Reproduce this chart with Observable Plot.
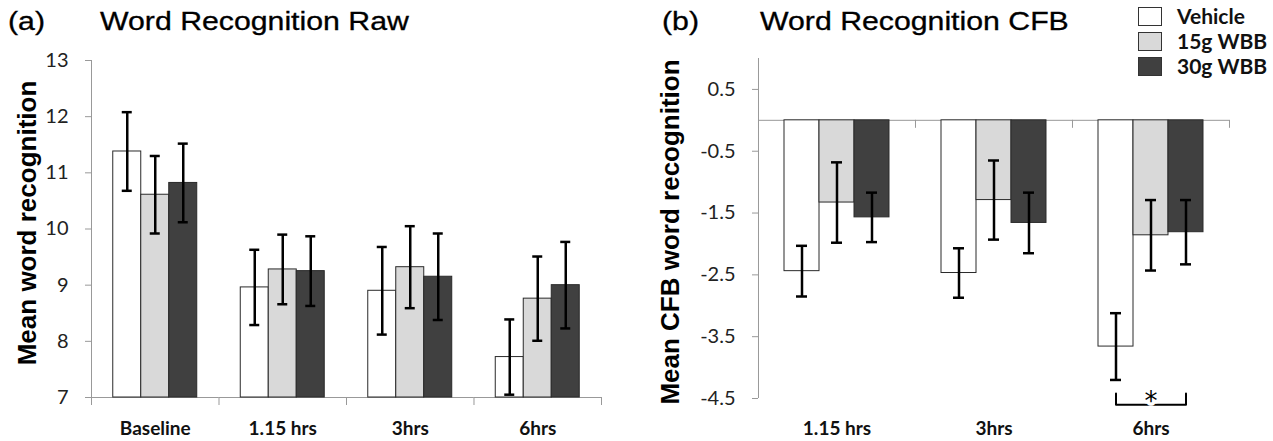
<!DOCTYPE html>
<html><head><meta charset="utf-8">
<script src="https://cdn.jsdelivr.net/npm/d3@7"></script>
<script src="https://cdn.jsdelivr.net/npm/@observablehq/plot@0.6"></script>
<style>
body{margin:0;background:#fff;}
#wrap{position:relative;width:1273px;height:441px;overflow:hidden;background:#fff;}
#wrap svg{position:absolute;top:0;}
.t{position:absolute;font-family:"Liberation Sans",Arial,sans-serif;font-size:25px;line-height:25px;color:#000;white-space:nowrap;transform-origin:0 0;transform:scaleX(1.21);-webkit-text-stroke:0.3px #000;}
.yl{position:absolute;font-family:"Liberation Sans",Arial,sans-serif;font-weight:bold;font-size:26px;line-height:26px;color:#000;white-space:nowrap;transform:translate(-50%,-50%) rotate(-90deg);}
.sw{position:absolute;width:22px;height:17px;border:1px solid #333;}
.lt{position:absolute;font-family:Lato,sans-serif;font-weight:bold;font-size:21px;line-height:21px;color:#111;white-space:nowrap;}
</style></head><body><div id="wrap"></div>
<script>
// ---- data ----
const series = ["Vehicle", "15g WBB", "30g WBB"];
const seriesColors = ["#ffffff", "#d9d9d9", "#404040"];

const rawCategories = ["Baseline", "1.15 hrs", "3hrs", "6hrs"];
const rawVehicle = [11.38, 8.96, 8.90, 7.72];
const raw15g = [10.61, 9.28, 9.32, 8.76];
const raw30g = [10.82, 9.25, 9.15, 9.00];
const rawVehicleErr = [0.70, 0.67, 0.78, 0.67];
const raw15gErr = [0.69, 0.62, 0.73, 0.75];
const raw30gErr = [0.70, 0.62, 0.77, 0.77];
const rawTicks = [7, 8, 9, 10, 11, 12, 13];

const cfbCategories = ["1.15 hrs", "3hrs", "6hrs"];
const cfbVehicle = [-2.44, -2.47, -3.66];
const cfb15g = [-1.33, -1.29, -1.86];
const cfb30g = [-1.57, -1.66, -1.81];
const cfbVehicleErr = [0.41, 0.40, 0.54];
const cfb15gErr = [0.65, 0.64, 0.57];
const cfb30gErr = [0.40, 0.49, 0.52];
const cfbTicks = [0.5, -0.5, -1.5, -2.5, -3.5, -4.5];

const significance = [{category: "6hrs", from: "Vehicle", to: "30g WBB", label: "*"}];

// ---- drawing ----
const axisGray = "#999";
function panel(o) {
  const means = o.means, errs = o.errs;
  const rows = [];
  o.cats.forEach((c, i) => series.forEach((s, j) =>
    rows.push({category: c, series: s, value: means[j][i], err: errs[j][i]})));
  const facetW = (o.width - o.ml - o.mr) / o.cats.length;
  const step = facetW / (series.length + 2 * o.pOuter);
  const edge = step * (o.pOuter + 0.5);
  const capInset = (step - o.capW) / 2;
  const marks = [
    Plot.ruleY([o.base], {stroke: axisGray, strokeWidth: 1}),
    Plot.barY(rows, {fx: "category", x: "series", y1: o.base, y2: "value", fill: "series", stroke: "#2a2a2a", strokeWidth: 1}),
    Plot.ruleX(rows, {fx: "category", x: "series", y1: d => d.value - d.err, y2: d => d.value + d.err, stroke: "#000", strokeWidth: 2.5}),
    Plot.tickY(rows, {fx: "category", x: "series", y: d => d.value - d.err, insetLeft: capInset, insetRight: capInset, stroke: "#000", strokeWidth: 2.5}),
    Plot.tickY(rows, {fx: "category", x: "series", y: d => d.value + d.err, insetLeft: capInset, insetRight: capInset, stroke: "#000", strokeWidth: 2.5}),
    // y axis line
    Plot.ruleX([o.cats[0]], {fx: d => d, x: () => series[0], dx: -edge, y1: o.yDomain[0], y2: o.yDomain[1], stroke: axisGray}),
    // category separators
    Plot.ruleX(o.cats, {fx: d => d, x: () => series[0], dx: -edge, y1: o.base, y2: o.base, insetBottom: -8, stroke: axisGray}),
    Plot.ruleX([o.cats[o.cats.length - 1]], {fx: d => d, x: () => series[series.length - 1], dx: edge, y1: o.base, y2: o.base, insetBottom: -8, stroke: axisGray}),
    Plot.axisY({ticks: o.ticks, tickSize: 6, tickPadding: 17, tickFormat: d => String(d), stroke: axisGray, fill: "#222", fontSize: 20, label: null}),
    Plot.axisFx({anchor: "bottom", tickSize: 0, tickPadding: o.labelPad, fontSize: 19, fontWeight: "bold", fill: "#111", label: null})
  ];
  if (o.sig) {
    const top = o.sigTop, low = o.sigLow;
    o.sig.forEach(s => {
      const pts = [
        {category: s.category, series: s.from, y: top},
        {category: s.category, series: s.from, y: low},
        {category: s.category, series: s.to, y: low},
        {category: s.category, series: s.to, y: top}
      ];
      marks.push(Plot.line(pts, {fx: "category", x: "series", y: "y", stroke: "#000", strokeWidth: 2}));
      const mid = series[(series.indexOf(s.from) + series.indexOf(s.to)) / 2];
      marks.push(Plot.text([s], {fx: "category", x: () => mid, y: low, text: "label", fontSize: 26, fontFamily: "DejaVu Sans", fill: "#000", stroke: "#fff", strokeWidth: 7, paintOrder: "stroke", dy: -3}));
    });
  }
  const svg = Plot.plot({
    width: o.width, height: 441,
    marginLeft: o.ml, marginRight: o.mr, marginTop: o.mt, marginBottom: o.mb,
    style: {fontFamily: "Lato, sans-serif", fontSize: "20px", background: "transparent", overflow: "visible"},
    fx: {domain: o.cats, padding: 0, round: false},
    x: {domain: series, paddingInner: 0, paddingOuter: o.pOuter, round: false, axis: null},
    y: {domain: o.yDomain},
    color: {domain: series, range: seriesColors},
    marks
  });
  svg.style.left = o.left + "px";
  return svg;
}

const wrap = document.getElementById("wrap");
wrap.appendChild(panel({
  cats: rawCategories, means: [rawVehicle, raw15g, raw30g], errs: [rawVehicleErr, raw15gErr, raw30gErr],
  yDomain: [7, 13], ticks: rawTicks, base: 7, labelPad: 24,
  left: 0, width: 625, ml: 91, mr: 24, mt: 60, mb: 44, pOuter: 0.777, capW: 10
}));
wrap.appendChild(panel({
  cats: cfbCategories, means: [cfbVehicle, cfb15g, cfb30g], errs: [cfbVehicleErr, cfb15gErr, cfb30gErr],
  yDomain: [-4.5, 1.0], ticks: cfbTicks, base: 0, labelPad: 23,
  left: 625, width: 648, ml: 133, mr: 44, mt: 58, mb: 43, pOuter: 0.743, capW: 11,
  sig: significance, sigTop: -4.42, sigLow: -4.6
}));

function addDiv(cls, text, css) {
  const d = document.createElement("div");
  d.className = cls; d.textContent = text;
  Object.assign(d.style, css);
  wrap.appendChild(d);
  return d;
}
addDiv("t", "(a)", {left: "8px", top: "9px"});
addDiv("t", "Word Recognition Raw", {left: "100px", top: "9px"});
addDiv("t", "(b)", {left: "662px", top: "9px"});
addDiv("t", "Word Recognition CFB", {left: "760px", top: "9px"});
addDiv("yl", "Mean word recognition", {left: "27px", top: "223px"});
addDiv("yl", "Mean CFB word recognition", {left: "670px", top: "232px"});

series.forEach((s, i) => {
  const cy = 16 + i * 25;
  const sw = document.createElement("div");
  sw.className = "sw";
  Object.assign(sw.style, {left: "1138px", top: (cy - 9) + "px", background: seriesColors[i]});
  wrap.appendChild(sw);
  addDiv("lt", s, {left: "1177px", top: (cy - 11) + "px"});
});
</script>
</body></html>
